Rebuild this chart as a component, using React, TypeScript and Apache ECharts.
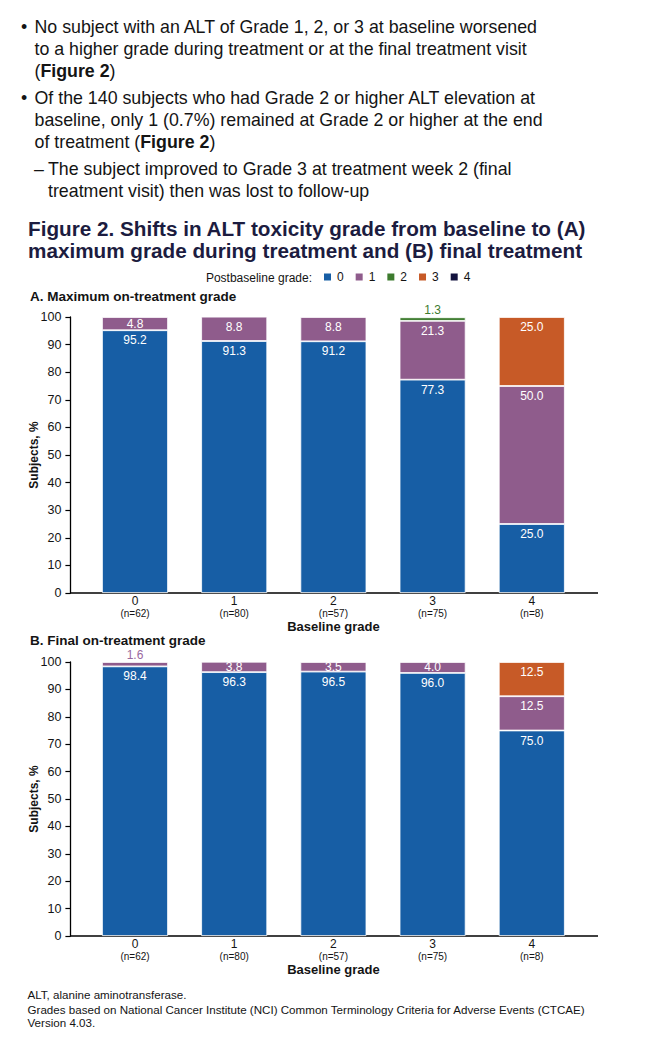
import React, { useEffect, useRef } from "react";
import * as echarts from "echarts";

// ---- data ----
const baselineGrades = ["0", "1", "2", "3", "4"];
const subjectCounts = ["(n=62)", "(n=80)", "(n=57)", "(n=75)", "(n=8)"];
const postbaselineGrades = ["0", "1", "2", "3", "4"];

// A. Maximum on-treatment grade (% of subjects), by postbaseline grade
const maxGrade0 = [95.2, 91.3, 91.2, 77.3, 25.0];
const maxGrade1 = [4.8, 8.8, 8.8, 21.3, 50.0];
const maxGrade2 = [0, 0, 0, 1.3, 0];
const maxGrade3 = [0, 0, 0, 0, 25.0];
const maxGrade4 = [0, 0, 0, 0, 0];

// B. Final on-treatment grade (% of subjects), by postbaseline grade
const finalGrade0 = [98.4, 96.3, 96.5, 96.0, 75.0];
const finalGrade1 = [1.6, 3.8, 3.5, 4.0, 12.5];
const finalGrade2 = [0, 0, 0, 0, 0];
const finalGrade3 = [0, 0, 0, 0, 12.5];
const finalGrade4 = [0, 0, 0, 0, 0];

const gradeColors = ["#175ea5", "#8f5c8c", "#3d7b2e", "#c75a27", "#12123e"];

const FONT = "'Liberation Sans', Arial, Helvetica, sans-serif";
const TXT = "#141414";

const bulletLines = [
  { y: 27, text: "No subject with an ALT of Grade 1, 2, or 3 at baseline worsened" },
  { y: 49, text: "to a higher grade during treatment or at the final treatment visit" },
  { y: 71, text: "({b|Figure 2})" },
  { y: 98, text: "Of the 140 subjects who had Grade 2 or higher ALT elevation at" },
  { y: 120, text: "baseline, only 1 (0.7%) remained at Grade 2 or higher at the end" },
  { y: 142, text: "of treatment ({b|Figure 2})" },
];
const subLines = [
  { y: 169, text: "The subject improved to Grade 3 at treatment week 2 (final" },
  { y: 191, text: "treatment visit) then was lost to follow-up" },
];
const titleLines = [
  "Figure 2. Shifts in ALT toxicity grade from baseline to (A)",
  "maximum grade during treatment and (B) final treatment",
];
const footnotes = [
  { y: 994, text: "ALT, alanine aminotransferase." },
  { y: 1009, text: "Grades based on National Cancer Institute (NCI) Common Terminology Criteria for Adverse Events (CTCAE)" },
  { y: 1022, text: "Version 4.03." },
];

function text(x: number, y: number, t: string, size: number, opts: any = {}) {
  return {
    type: "text",
    x,
    y,
    silent: true,
    style: {
      text: t,
      fontSize: size,
      fontFamily: FONT,
      fontWeight: opts.bold ? "bold" : "normal",
      fill: opts.fill || TXT,
      align: opts.align || "left",
      textAlign: opts.align || "left",
      verticalAlign: "middle",
      textVerticalAlign: "middle",
      rich: opts.rich,
    },
  };
}

export default function App() {
  const ref = useRef<HTMLDivElement>(null);

  useEffect(() => {
    if (!ref.current) return;
    const chart = echarts.init(ref.current, null, { renderer: "svg" });

    const grids = [
      { left: 85.4, width: 496, top: 317, height: 276 },
      { left: 85.4, width: 496, top: 662, height: 274 },
    ];

    const panels = [
      [maxGrade0, maxGrade1, maxGrade2, maxGrade3, maxGrade4],
      [finalGrade0, finalGrade1, finalGrade2, finalGrade3, finalGrade4],
    ];

    const labelFor = (v: number, g: number) => {
      if (!v) return { show: false };
      if (v < 2)
        return { show: true, position: "top", distance: 1, color: g === 1 ? "#9a68a0" : gradeColors[g] };
      if (v < 6) return { show: true, position: "inside", color: "#ffffff" };
      return { show: true, position: "insideTop", distance: 4, color: "#ffffff" };
    };

    const series: any[] = [];
    panels.forEach((grades, p) => {
      grades.forEach((vals, g) => {
        series.push({
          type: "bar",
          name: postbaselineGrades[g],
          stack: "panel" + p,
          xAxisIndex: p,
          yAxisIndex: p,
          barWidth: 66,
          itemStyle: { color: gradeColors[g], borderColor: "#ffffff", borderWidth: 0.8 },
          label: { fontSize: 12, fontFamily: FONT, formatter: (d: any) => Number(d.value).toFixed(1) },
          data: vals.map((v) => ({ value: v === 0 ? "-" : v, label: labelFor(v, g) })),
        });
      });
    });

    const xAxes = grids.map((_, i) => ({
      type: "category",
      gridIndex: i,
      data: baselineGrades,
      axisLine: { show: false },
      axisTick: { show: false },
      axisLabel: {
        margin: 1,
        formatter: (v: string, idx: number) => `{a|${v}}\n{b|${subjectCounts[idx]}}`,
        rich: {
          a: { fontSize: 12, lineHeight: 13, color: TXT, fontFamily: FONT },
          b: { fontSize: 10, lineHeight: 12, color: TXT, fontFamily: FONT },
        },
      },
      name: "Baseline grade",
      nameLocation: "middle",
      nameGap: 27,
      nameMoveOverlap: false,
      nameTextStyle: { fontSize: 13, fontWeight: "bold", color: TXT, fontFamily: FONT },
    }));

    const yAxes = grids.map((_, i) => ({
      type: "value",
      gridIndex: i,
      min: 0,
      max: 100,
      interval: 10,
      offset: 15,
      axisLine: { show: true, lineStyle: { color: "#000", width: 1.3 } },
      axisTick: { show: true, length: 5, lineStyle: { color: "#000", width: 1.2 } },
      axisLabel: { fontSize: 12.5, color: TXT, margin: 9, fontFamily: FONT },
      splitLine: { show: false },
      name: "Subjects, %",
      nameLocation: "middle",
      nameGap: 30,
      nameMoveOverlap: false,
      nameTextStyle: { fontSize: 12, fontWeight: "bold", color: TXT, fontFamily: FONT },
    }));

    const BODY = 17.8;
    const graphic: any[] = [];
    bulletLines.forEach((l, i) => {
      if (i === 0 || i === 3) graphic.push(text(21, l.y, "•", BODY));
      graphic.push(
        text(34.5, l.y, l.text, BODY, { rich: { b: { fontSize: BODY, fontWeight: "bold", fontFamily: FONT, fill: TXT } } })
      );
    });
    graphic.push(text(34, subLines[0].y, "–", BODY));
    subLines.forEach((l) => graphic.push(text(48, l.y, l.text, BODY)));
    titleLines.forEach((t, i) => graphic.push(text(28, 228 + i * 22, t, 20.7, { bold: true, fill: "#1c1c40" })));
    graphic.push(text(312, 278, "Postbaseline grade:", 12, { align: "right" }));
    graphic.push(text(30, 296, "A. Maximum on-treatment grade", 13.5, { bold: true }));
    graphic.push(text(30, 640, "B. Final on-treatment grade", 13.5, { bold: true }));
    footnotes.forEach((f) => graphic.push(text(27.5, f.y, f.text, 11.6)));
    // x-axis baselines (extend beyond category band like the original)
    [593, 936].forEach((yy) =>
      graphic.push({ type: "line", silent: true, shape: { x1: 70, y1: yy, x2: 598, y2: yy }, style: { stroke: "#000", lineWidth: 1.5 } })
    );

    chart.setOption({
      animation: false,
      backgroundColor: "#ffffff",
      textStyle: { fontFamily: FONT },
      grid: grids,
      xAxis: xAxes,
      yAxis: yAxes,
      legend: {
        data: postbaselineGrades,
        left: 322,
        top: 271,
        padding: 0,
        icon: "rect",
        itemWidth: 9,
        itemHeight: 9,
        itemGap: 10,
        selectedMode: false,
        textStyle: { fontSize: 12, color: TXT, fontFamily: FONT },
      },
      series,
      graphic,
    });

    return () => chart.dispose();
  }, []);

  return (
    <div
      ref={ref}
      style={{ position: "absolute", left: 0, top: 0, width: 647, height: 1048, background: "#fff" }}
    />
  );
}
